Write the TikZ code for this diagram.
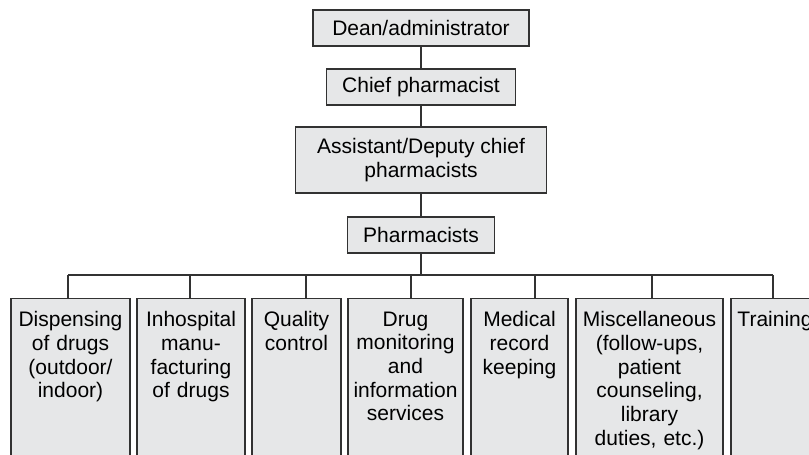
\documentclass[tikz,border=0pt]{standalone}
\usepackage{fontspec}
\setmainfont{Liberation Sans}
\definecolor{boxgray}{RGB}{230,231,232}
\definecolor{linegray}{RGB}{50,50,50}
\begin{document}
\begin{tikzpicture}[x=1pt, y=-1pt,
    post/.style={draw=linegray, line width=1.2pt, fill=boxgray, inner sep=0pt,
      minimum height=36pt, align=center, font=\fontsize{21}{24}\selectfont},
    dept/.style={draw=linegray, line width=1.2pt, fill=boxgray, anchor=north,
      inner xsep=2pt, inner ysep=13pt, text depth=200pt, align=center,
      font=\fontsize{21}{23.7}\selectfont},
    link/.style={draw=linegray, line width=1.2pt}]
    \useasboundingbox (0,0) rectangle (809,455);
    \clip (0,0) rectangle (809,455);
    % chain of posts
    \node[post, minimum width=216pt] (dean)  at (421,28)  {Dean/administrator};
    \node[post, minimum width=189pt] (chief) at (421,87)  {Chief pharmacist};
    \node[post, minimum width=251pt, minimum height=66pt] (deputy) at (421,160)
      {Assistant/Deputy chief\\pharmacists};
    \node[post, minimum width=147pt] (pharm) at (421,235) {Pharmacists};
    \draw[link] (dean) -- (chief);
    \draw[link] (chief) -- (deputy);
    \draw[link] (deputy) -- (pharm);
    % sections under the pharmacists
    \node[dept, text width=115pt] (d1) at (70.5,298)  {Dispensing\\of drugs\\(outdoor/\\indoor)};
    \node[dept, text width=104pt] (d2) at (191,298)   {Inhospital\\manu-\\facturing\\of drugs};
    \node[dept, text width=85pt]  (d3) at (296.5,298) {Quality\\control};
    \node[dept, text width=111pt] (d4) at (405.5,298) {Drug\\monitoring\\and\\information\\services};
    \node[dept, text width=93pt]  (d5) at (519.5,298) {Medical\\record\\keeping};
    \node[dept, text width=143pt] (d6) at (649.5,298) {Miscellaneous\\(follow-ups,\\patient\\counseling,\\library\\duties, etc.)};
    \node[dept, text width=84pt]  (d7) at (775,298)   {Training};
    % bus line
    \coordinate (bus) at (421,275);
    \coordinate (b1) at (68,275);
    \coordinate (b2) at (190,275);
    \coordinate (b3) at (306,275);
    \coordinate (b4) at (411,275);
    \coordinate (b5) at (535,275);
    \coordinate (b6) at (652,275);
    \coordinate (b7) at (773,275);
    \draw[link] (pharm) -- (bus);
    \draw[link] (b1) -- (b7);
    \draw[link] (b1) -- (b1 |- d1.north);
    \draw[link] (b2) -- (b2 |- d2.north);
    \draw[link] (b3) -- (b3 |- d3.north);
    \draw[link] (b4) -- (b4 |- d4.north);
    \draw[link] (b5) -- (b5 |- d5.north);
    \draw[link] (b6) -- (b6 |- d6.north);
    \draw[link] (b7) -- (b7 |- d7.north);
  \end{tikzpicture}
\end{document}
